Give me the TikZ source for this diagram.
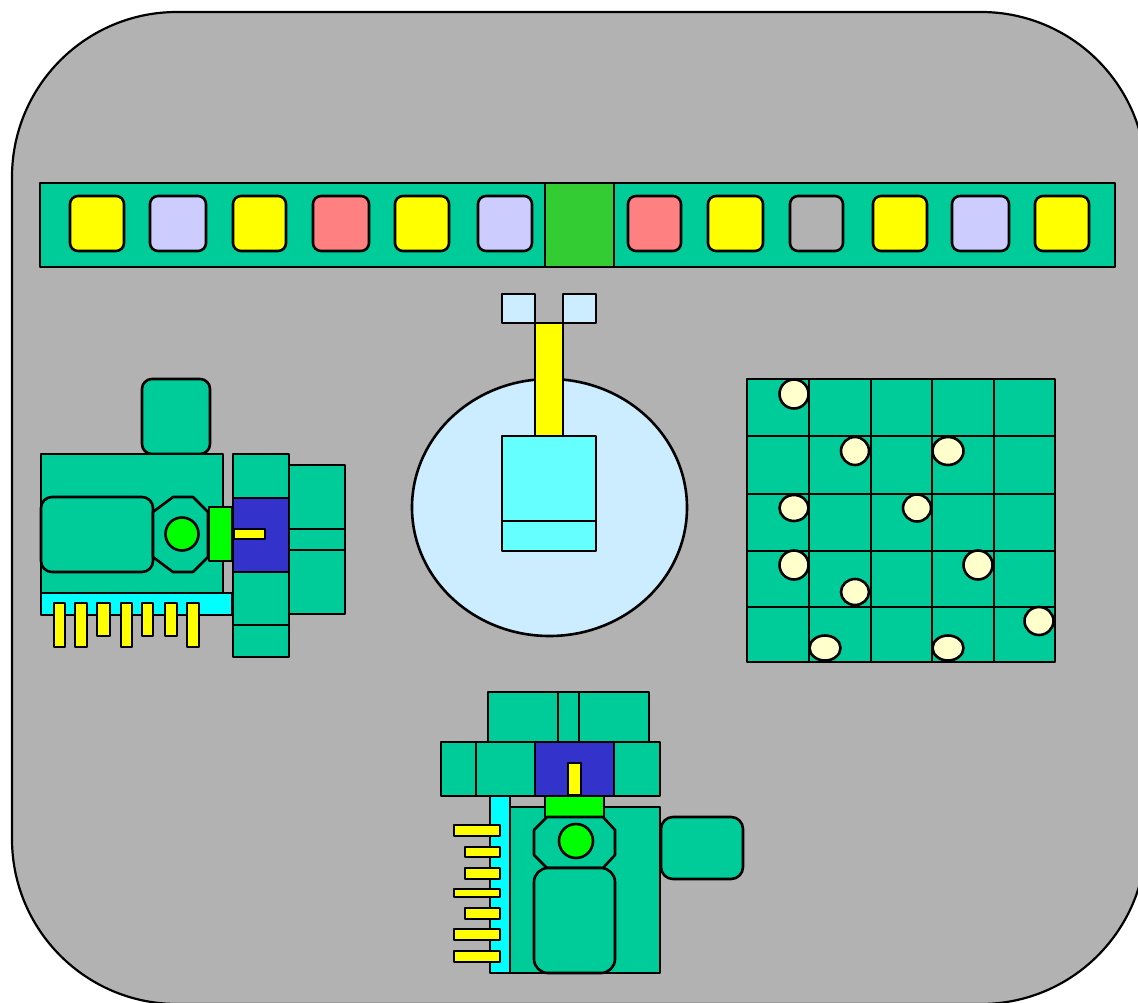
\documentclass[tikz,border=0pt]{standalone}
\begin{document}
\begin{tikzpicture}[x=1pt,y=-1pt,line join=round]
  \definecolor{floor}{HTML}{B2B2B2}
  \definecolor{teal}{HTML}{00CC99}
  \definecolor{lav}{HTML}{CCCCFF}
  \definecolor{salmon}{HTML}{FF8080}
  \definecolor{yel}{HTML}{FFFF00}
  \definecolor{gate}{HTML}{33CC33}
  \definecolor{lime}{HTML}{00FF00}
  \definecolor{aqua}{HTML}{00FFFF}
  \definecolor{motor}{HTML}{3333CC}
  \definecolor{tank}{HTML}{CCECFF}
  \definecolor{hopper}{HTML}{66FFFF}
  \definecolor{pebble}{HTML}{FFFFCC}
  \tikzset{
    part/.style={draw=black,line width=2.6pt,fill=#1},
    part/.default=teal,
    slot/.style={draw=black,line width=2.6pt,fill=#1,rounded corners=8pt},
    pin/.style={draw=black,line width=2.4pt,fill=yel},
    frame/.style={draw=black,line width=2.2pt,fill=floor,rounded corners=165pt}
  }
  \useasboundingbox (0,0) rectangle (1138,1003);
  \clip (0,0) rectangle (1138,1003);
  \fill[white] (0,0) rectangle (1138,1003);

  % floor plate
  \draw[frame] (12,12) rectangle (1146,1004);

  % ---------- conveyor strip ----------
  \draw[part] (40,183) rectangle (1115,267);
  \draw[part=gate] (545,183) rectangle (614,267);
  \foreach \xa/\xb/\c in {70/124/yel,150/206/lav,233/286/yel,313/369/salmon,
      395/449/yel,478/532/lav,628/681/salmon,708/763/yel,790/843/floor,
      873/927/yel,952/1009/lav,1035/1089/yel}
    \draw[slot=\c] (\xa,196) rectangle (\xb,251);

  % ---------- left machine ----------
  \draw[part,rounded corners=10pt] (142,379) rectangle (210,454);
  \draw[part] (41,454) rectangle (223,593);
  \draw[part,rounded corners=11pt] (41,497) rectangle (153,572);
  \draw[part] (173,497) -- (193,497) -- (208,512) -- (208,557) -- (193,572)
        -- (173,572) -- (153,557) -- (153,512) -- cycle;
  \draw[part=lime] (182,534) circle (16.5);
  \draw[part=lime] (209,507) rectangle (232,561);
  \draw[part=aqua] (41,593) rectangle (232,615);
  \foreach \xa/\xb/\yb in {54/65/647,75/87/647,97/110/636,121/132/647,
      142/153/636,165/177/636,187/199/647}
    \draw[pin] (\xa,603) rectangle (\xb,\yb);
  \draw[part] (233,454) rectangle (289,498);
  \draw[part] (233,572) rectangle (289,625);
  \draw[part] (233,625) rectangle (289,657);
  \draw[part=motor] (233,498) rectangle (289,572);
  \draw[pin] (234,529) rectangle (265,539);
  \draw[part] (289,465) rectangle (345,529);
  \draw[part] (289,529) rectangle (345,550);
  \draw[part] (289,550) rectangle (345,614);

  % ---------- mixing tank ----------
  \draw[part=tank] (549.5,507.5) ellipse (137.5 and 128.5);
  \draw[part=tank] (502,294) rectangle (535,323);
  \draw[part=tank] (563,294) rectangle (596,323);
  \draw[part=yel] (535,323) rectangle (563,436);
  \draw[part=hopper] (502,436) rectangle (596,521);
  \draw[part=hopper] (502,521) rectangle (596,551);

  % ---------- sieve grid ----------
  \draw[part] (747,379) rectangle (1055,662);
  \foreach \gx in {809,871,932,994}
    \draw[line width=2.6pt] (\gx,379) -- (\gx,662);
  \foreach \gy in {436,494,551,607}
    \draw[line width=2.6pt] (747,\gy) -- (1055,\gy);
  \foreach \px/\py/\rx/\ry in {794/394/14.5/14.5,855/451/14/14,948/451/15.5/14,
      794/508/14.5/13,917/508/14/13.5,794/565/14.5/14.5,978/565/14.5/14.5,
      855/592/14/13,1039/621/14.5/14,825/648/15.5/12.5,948/648/15.5/12.5}
    \draw[part=pebble] (\px,\py) ellipse (\rx pt and \ry pt);

  % ---------- bottom machine ----------
  \draw[part] (488,692) rectangle (558,742);
  \draw[part] (558,692) rectangle (579,742);
  \draw[part] (579,692) rectangle (649,742);
  \draw[part] (441,742) rectangle (476,796);
  \draw[part] (476,742) rectangle (535,796);
  \draw[part] (614,742) rectangle (660,796);
  \draw[part=motor] (535,742) rectangle (614,796);
  \draw[pin] (568,763) rectangle (581,795);
  \draw[part=aqua] (490,796) rectangle (510,973);
  \draw[part] (510,807) rectangle (660,973);
  \draw[part=lime] (545,796) rectangle (604,817);
  \draw[part] (547,817) -- (603,817) -- (615,830) -- (615,855) -- (603,868)
        -- (547,868) -- (534,855) -- (534,830) -- cycle;
  \draw[part=lime] (576,841) circle (17);
  \draw[part,rounded corners=14pt] (534,868) rectangle (615,973);
  \draw[line width=2.6pt] (510,973) -- (660,973);
  \draw[part,rounded corners=12pt] (661,817) rectangle (743,879);
  \foreach \xa/\ya/\yb in {454/825/836,465/847/857,465/868/879,454/889/897,
      465/908/919,454/929/940,454/951/962}
    \draw[pin] (\xa,\ya) rectangle (500,\yb);
\end{tikzpicture}
\end{document}
